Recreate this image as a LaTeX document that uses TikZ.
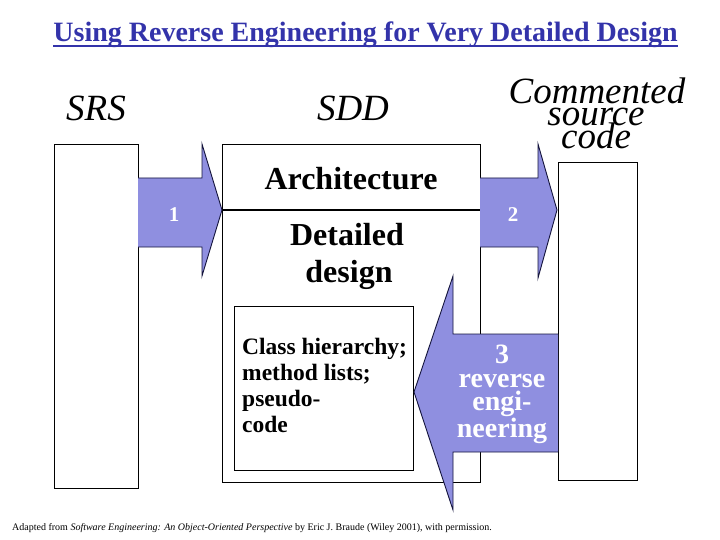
\documentclass[tikz,border=0pt]{standalone}
\usepackage{fontspec}
\setmainfont{Liberation Serif}
\usetikzlibrary{calc}
\definecolor{titleblue}{RGB}{51,51,170}
\definecolor{arrowfill}{RGB}{143,143,224}
\definecolor{arrowedge}{RGB}{20,20,60}
\tikzset{
  box/.style={draw=black, line width=1.2pt, fill=white},
  blockarrow/.style={fill=arrowfill, draw=arrowedge, line width=0.9pt, line join=miter},
  bigital/.style={font=\fontsize{37}{23}\selectfont\itshape, inner sep=0pt},
  boldlbl/.style={font=\fontsize{32}{37}\selectfont\bfseries, inner sep=0pt},
  whitelbl/.style={text=white, font=\fontsize{28}{23.5}\selectfont\bfseries, inner sep=0pt, align=center},
}
\begin{document}
\begin{tikzpicture}[x=1pt,y=-1pt]
\useasboundingbox (0,0) rectangle (720,540);
% title
\node[text=titleblue, font=\fontsize{28}{30}\selectfont\bfseries, anchor=base, inner sep=0pt] (title) at (365.5,42) {Using Reverse Engineering for Very Detailed Design};
\draw[titleblue, line width=1.6pt] ($(title.base west)+(0,4)$) -- ($(title.base east)+(0,4)$);
% headings
\node[bigital, anchor=base] (srs) at (96,121) {SRS};
\node[bigital, anchor=base] (sdd) at (353,121) {SDD};
\node[bigital, anchor=base] (csc1) at (597,104) {Commented};
\node[bigital, anchor=base] (csc2) at (596,126) {source};
\node[bigital, anchor=base] (csc3) at (596,149) {code};
% boxes
\node[box, minimum width=84pt, minimum height=344pt, anchor=north west, inner sep=0pt] (srsbox) at (54,144) {};
\node[box, minimum width=258pt, minimum height=338pt, anchor=north west, inner sep=0pt] (sddbox) at (222,144) {};
\coordinate (archL) at (222,210);
\coordinate (archR) at (480,210);
\draw[black, line width=1.2pt] (archL) -- (archR);
\node[box, minimum width=79pt, minimum height=318pt, anchor=north west, inner sep=0pt] (srcbox) at (558,162) {};
\node[box, minimum width=179pt, minimum height=164pt, anchor=north west, inner sep=0pt] (classbox) at (234,306) {};
% labels inside SDD
\node[boldlbl, anchor=base] (arch) at (351,190) {Architecture};
\node[boldlbl, anchor=base] (det1) at (347,245) {Detailed};
\node[boldlbl, anchor=base] (det2) at (349,282) {design};
\node[font=\fontsize{23.5}{26}\selectfont\bfseries, align=left, anchor=north west, inner sep=0pt] (cls) at (242,338) {Class hierarchy;\\method lists;\\pseudo-\\code};
% arrows
\draw[blockarrow] (138,178) -- (202,178) -- (202,144) -- (222,210) -- (202,276) -- (202,247) -- (138,247);
\draw[blockarrow] (480,178) -- (538,178) -- (538,144) -- (557,210) -- (538,278) -- (538,247) -- (480,247);
\draw[blockarrow] (558,334) -- (453,334) -- (453,276) -- (414,392) -- (453,510) -- (453,452) -- (558,452);
\node[whitelbl, font=\fontsize{21}{24}\selectfont\bfseries] (one) at (174,215) {1};
\node[whitelbl, font=\fontsize{21}{24}\selectfont\bfseries] (two) at (513,215) {2};
\node[whitelbl, anchor=north] (three) at (502,345) {3\\reverse\\engi-\\neering};
% footer
\node[font=\fontsize{10}{11}\selectfont, anchor=base west, inner sep=0pt] (foot) at (12,530) {Adapted from \textit{Software Engineering: An Object-Oriented Perspective} by Eric J. Braude (Wiley 2001), with permission.};
\end{tikzpicture}
\end{document}
